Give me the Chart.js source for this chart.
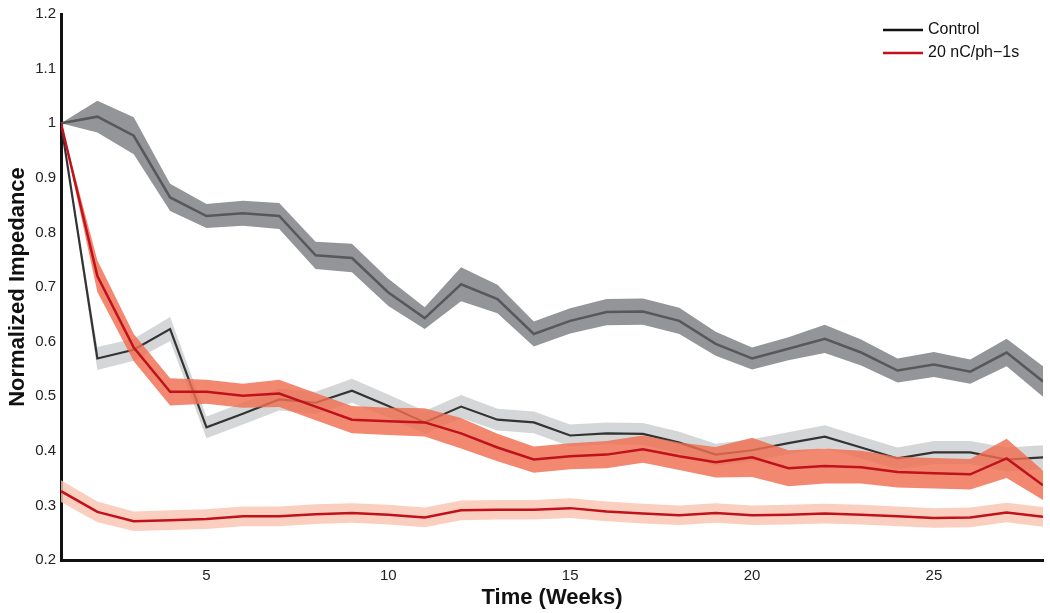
<!DOCTYPE html>
<html>
<head>
<meta charset="utf-8">
<script src="https://cdn.jsdelivr.net/npm/chart.js@4.4.1/dist/chart.umd.min.js"></script>
<style>
  html, body { margin: 0; padding: 0; background: #fff; }
  #wrap { width: 1050px; height: 613px; position: relative; }
</style>
</head>
<body>
<div id="wrap"><canvas id="c" width="1050" height="613"></canvas></div>
<script>
const weeks = [1,2,3,4,5,6,7,8,9,10,11,12,13,14,15,16,17,18,19,20,21,22,23,24,25,26,27,28];
const xTicks = [5,10,15,20,25];
const yTicks = [0.2,0.3,0.4,0.5,0.6,0.7,0.8,0.9,1.0,1.1,1.2];

// Control (upper, dark gray band)
const ctrlA_mean = [1.0,1.012,0.977,0.864,0.830,0.835,0.830,0.758,0.753,0.690,0.643,0.705,0.678,0.614,0.638,0.654,0.655,0.638,0.596,0.569,0.587,0.605,0.580,0.547,0.558,0.545,0.580,0.527];
const ctrlA_err  = [0.0,0.029,0.034,0.025,0.022,0.023,0.024,0.025,0.026,0.025,0.020,0.031,0.026,0.023,0.023,0.024,0.024,0.024,0.022,0.020,0.021,0.026,0.024,0.022,0.023,0.022,0.025,0.028];

// Control (lower, light gray band)
const ctrlB_mean = [1.0,0.569,0.585,0.623,0.443,0.468,0.494,0.488,0.510,0.482,0.452,0.481,0.457,0.452,0.428,0.432,0.431,0.415,0.393,0.401,0.414,0.426,0.406,0.386,0.397,0.397,0.384,0.388];
const ctrlB_err  = [0.0,0.021,0.020,0.022,0.020,0.020,0.020,0.020,0.022,0.021,0.021,0.021,0.020,0.020,0.020,0.020,0.020,0.020,0.020,0.020,0.020,0.021,0.020,0.020,0.021,0.021,0.022,0.022];

// 20 nC/ph-1s (orange band)
const stimA_mean = [1.0,0.720,0.589,0.508,0.508,0.501,0.505,0.481,0.457,0.454,0.452,0.432,0.406,0.384,0.390,0.393,0.403,0.390,0.379,0.388,0.368,0.372,0.370,0.361,0.359,0.357,0.386,0.337];
const stimA_err  = [0.0,0.029,0.025,0.025,0.022,0.022,0.025,0.025,0.025,0.025,0.026,0.028,0.025,0.024,0.024,0.025,0.025,0.025,0.028,0.036,0.033,0.032,0.030,0.028,0.028,0.028,0.036,0.027];

// 20 nC/ph-1s (pink band, lower)
const stimB_mean = [0.326,0.288,0.271,0.273,0.275,0.280,0.280,0.284,0.286,0.283,0.278,0.291,0.292,0.292,0.295,0.289,0.285,0.282,0.286,0.282,0.283,0.285,0.283,0.280,0.277,0.278,0.287,0.279];
const stimB_err  = [0.020,0.019,0.018,0.018,0.018,0.018,0.018,0.018,0.018,0.018,0.018,0.018,0.018,0.018,0.018,0.018,0.018,0.018,0.018,0.018,0.018,0.018,0.018,0.018,0.018,0.018,0.018,0.018];

const legendItems = [
  { label: 'Control', color: '#111111' },
  { label: '20 nC/ph\u22121s', color: '#c0121c' }
];

function pts(arr, err, sign) {
  return weeks.map((w, i) => ({ x: w, y: arr[i] + sign * (err ? err[i] : 0) }));
}

function band(mean, err, fillColor, order) {
  return [
    { data: pts(mean, err, 1), borderWidth: 0, pointRadius: 0, fill: '+1', backgroundColor: fillColor, order: order },
    { data: pts(mean, err, -1), borderWidth: 0, pointRadius: 0, fill: false, order: order }
  ];
}
function line(mean, color, width, order) {
  return { data: pts(mean, null, 0), borderColor: color, borderWidth: width, pointRadius: 0, fill: false, order: order, borderJoinStyle: 'miter' };
}

const datasets = [
  ...band(ctrlA_mean, ctrlA_err, '#939598', 20),
  line(ctrlA_mean, '#58585b', 2.5, 19),
  ...band(ctrlB_mean, ctrlB_err, '#d5d6d8', 18),
  line(ctrlB_mean, '#333333', 2.2, 17),
  ...band(stimA_mean, stimA_err, 'rgba(240,110,80,0.82)', 16),
  line(stimA_mean, '#c0121c', 2.5, 15),
  ...band(stimB_mean, stimB_err, 'rgba(250,195,175,0.8)', 14),
  line(stimB_mean, '#c0121c', 2.5, 13)
];

const legendPlugin = {
  id: 'insideLegend',
  afterDraw(chart) {
    const ctx = chart.ctx;
    ctx.save();
    ctx.font = '16px "Liberation Sans", Arial, sans-serif';
    ctx.textBaseline = 'middle';
    legendItems.forEach((it, i) => {
      const y = 30 + i * 23;
      ctx.strokeStyle = it.color;
      ctx.lineWidth = 2.5;
      ctx.beginPath();
      ctx.moveTo(883, y);
      ctx.lineTo(923, y);
      ctx.stroke();
      ctx.fillStyle = '#111';
      ctx.fillText(it.label, 928, y);
    });
    ctx.restore();
  }
};

new Chart(document.getElementById('c'), {
  type: 'line',
  data: { datasets },
  plugins: [legendPlugin],
  options: {
    responsive: false,
    animation: false,
    events: [],
    layout: { padding: { top: 12, right: 7, left: 0, bottom: 0 } },
    plugins: { legend: { display: false }, tooltip: { enabled: false } },
    elements: { line: { tension: 0 } },
    scales: {
      x: {
        type: 'linear',
        min: 1, max: 28,
        afterBuildTicks: s => { s.ticks = xTicks.map(v => ({ value: v })); },
        afterFit: s => { s.height = 53; },
        grid: { display: true, color: 'rgba(0,0,0,0)', drawTicks: false },
        border: { display: true, color: '#111', width: 3 },
        ticks: { color: '#222', font: { size: 15, family: '"Liberation Sans", Arial, sans-serif' }, padding: 7, maxRotation: 0 },
        title: { display: true, text: 'Time (Weeks)', color: '#111', font: { size: 22, weight: 'bold', family: '"Liberation Sans", Arial, sans-serif' }, padding: { top: 0, bottom: 2 } }
      },
      y: {
        type: 'linear',
        min: 0.2, max: 1.2,
        afterBuildTicks: s => { s.ticks = yTicks.map(v => ({ value: v })); },
        afterFit: s => { s.width = 61; },
        grid: { display: true, color: 'rgba(0,0,0,0)', drawTicks: false },
        border: { display: true, color: '#111', width: 3 },
        ticks: { color: '#222', font: { size: 15, family: '"Liberation Sans", Arial, sans-serif' }, padding: 5,
                 callback: v => String(Number(v.toFixed(1))) },
        title: { display: true, text: 'Normalized Impedance', color: '#111', font: { size: 22, weight: 'bold', family: '"Liberation Sans", Arial, sans-serif' }, padding: { top: 5, bottom: 0 } }
      }
    }
  }
});
</script>
</body>
</html>
